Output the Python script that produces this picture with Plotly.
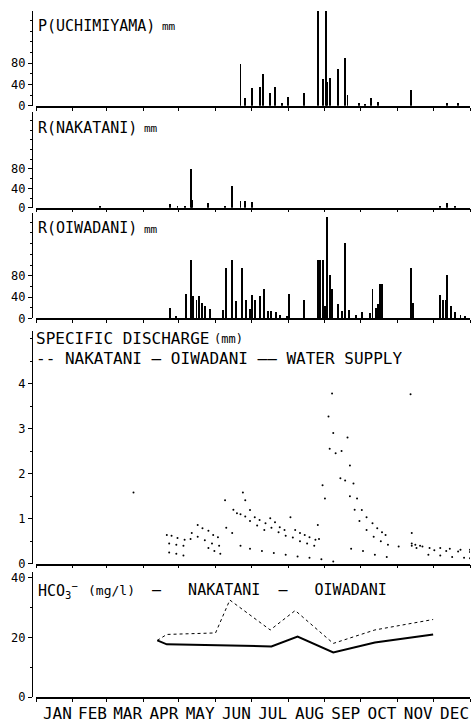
import plotly.graph_objects as go

W, H = 471, 725
FONT = "DejaVu Sans Mono"

# ---------------- data ----------------
months = ["JAN", "FEB", "MAR", "APR", "MAY", "JUN", "JUL", "AUG", "SEP", "OCT", "NOV", "DEC"]
month_starts = [0, 31, 59, 90, 120, 151, 181, 212, 243, 273, 304, 334, 365]
month_mids = [(month_starts[i] + month_starts[i + 1]) / 2 for i in range(12)]

# daily rainfall (day of year, mm)
p_uchi_day = [172, 176, 182, 188, 191, 197, 201, 207, 212, 225, 237, 241, 244, 245, 247,
              254, 260, 262, 272, 277, 282, 288, 315, 346, 355]
p_uchi_mm = [78, 15, 33, 35, 60, 25, 36, 5, 16, 25, 200, 50, 200, 44, 53,
             69, 89, 20, 5, 4, 15, 8, 29, 5, 5]

r_naka_day = [54, 113, 119, 125, 130, 131, 145, 159, 165, 172, 176, 182, 340, 346, 352]
r_naka_mm = [2, 8, 3, 5, 80, 17, 10, 5, 45, 14, 14, 12, 5, 10, 3]

r_oiwa_day = [113, 118, 126, 130, 132, 135, 137, 140, 142, 146, 157, 160, 165, 168, 173,
              177, 180, 182, 184, 188, 192, 195, 198, 202, 205, 211, 213, 225, 237, 239,
              241, 243, 245, 247, 249, 254, 257, 260, 263, 269, 274, 281, 283, 286, 288,
              289, 291, 315, 317, 340, 342, 345, 346, 349, 352, 357, 361]
r_oiwa_mm = [20, 5, 47, 110, 42, 36, 42, 29, 24, 18, 16, 96, 110, 33, 96,
             36, 18, 44, 36, 42, 55, 15, 14, 12, 8, 5, 47, 35, 110, 110,
             110, 24, 190, 82, 55, 27, 14, 142, 16, 8, 12, 10, 56, 20, 27,
             65, 65, 95, 29, 45, 35, 36, 82, 24, 12, 8, 5]

# specific discharge (mm/day)
q_oiwa_day = [110, 114, 119, 125, 131, 136, 140, 145, 149, 153, 159, 165, 169, 174, 176,
              180, 184, 188, 193, 197, 201, 205, 209, 214, 218, 222, 226, 230, 235, 237,
              241, 246, 249, 250, 257, 262, 264, 267, 270, 274, 278, 283, 287, 291, 294,
              316, 319, 323, 331, 340, 348, 357, 365]
q_oiwa = [0.64, 0.62, 0.57, 0.53, 0.68, 0.86, 0.79, 0.73, 0.64, 0.59, 1.41, 0.68, 1.12, 1.58, 1.41,
          1.19, 1.03, 0.97, 0.90, 1.01, 0.92, 0.81, 0.75, 1.03, 0.75, 0.68, 0.64, 0.59, 0.53, 0.86,
          1.74, 3.27, 3.78, 2.90, 2.50, 2.80, 2.18, 1.78, 1.45, 1.19, 1.03, 0.90, 0.79, 0.70, 0.64,
          0.68, 0.42, 0.40, 0.35, 0.35, 0.33, 0.31, 0.31]

q_naka_day = [82, 112, 118, 124, 130, 136, 142, 148, 154, 160, 166, 172, 176, 180, 186,
              192, 198, 204, 210, 216, 222, 228, 234, 238, 243, 247, 252, 256, 260, 264,
              268, 272, 278, 284, 290, 296, 305, 316, 325, 335, 345, 355, 365]
q_naka = [1.58, 0.45, 0.42, 0.40, 0.55, 0.60, 0.52, 0.45, 0.40, 0.80, 1.20, 1.10, 1.05, 0.95, 0.85,
          0.75, 0.80, 0.70, 0.62, 0.58, 0.50, 0.45, 0.40, 0.55, 1.45, 2.55, 2.45, 1.90, 1.85, 1.50,
          1.20, 0.95, 0.75, 0.60, 0.50, 0.42, 0.38, 0.45, 0.38, 0.30, 0.28, 0.27, 0.26]

q_ws_day = [112, 118, 124, 145, 150, 155, 172, 180, 190, 200, 210, 220, 230, 240, 250,
            265, 275, 285, 295, 315, 316, 320, 330, 340, 350, 360, 365]
q_ws = [0.25, 0.22, 0.18, 0.35, 0.28, 0.22, 0.40, 0.33, 0.28, 0.24, 0.20, 0.16, 0.13, 0.10, 0.05,
        0.33, 0.28, 0.20, 0.15, 3.76, 0.40, 0.35, 0.20, 0.18, 0.15, 0.13, 0.12]

# HCO3- concentration (mg/l)
hco3_naka_day = [102, 110, 151, 163, 197, 218, 250, 285, 334]
hco3_naka = [19.0, 21.0, 21.5, 32.5, 22.5, 29.0, 18.0, 22.5, 26.0]
hco3_oiwa_day = [102, 110, 198, 220, 250, 285, 334]
hco3_oiwa = [19.0, 17.7, 17.0, 20.3, 15.0, 18.3, 21.0]

# ---------------- layout geometry (pixels) ----------------
def py(v):
    return 1 - v / H

def px(v):
    return v / W

panels = [  # top, bottom, yrange
    (10, 106, [0, 178]),
    (112, 209, [0, 198]),
    (214, 321, [0, 198]),
    (334, 569, [0, 5.16]),
    (577, 704, [0, 42]),
]
X0, X1, YAX = 36, 470, 32

fig = go.Figure()

def bars(days, vals, n):
    fig.add_trace(go.Bar(x=days, y=vals, width=0.8, marker=dict(color="black", line=dict(width=0)),
                         xaxis=f"x{n}", yaxis=f"y{n}", showlegend=False))

bars(p_uchi_day, p_uchi_mm, 1)
bars(r_naka_day, r_naka_mm, 2)
bars(r_oiwa_day, r_oiwa_mm, 3)

for d, v in [(q_naka_day, q_naka), (q_oiwa_day, q_oiwa), (q_ws_day, q_ws)]:
    fig.add_trace(go.Scatter(x=d, y=v, mode="markers", marker=dict(color="black", size=2),
                             xaxis="x4", yaxis="y4", showlegend=False))

fig.add_trace(go.Scatter(x=hco3_naka_day, y=hco3_naka, mode="lines",
                         line=dict(color="black", width=1, dash="dot"),
                         xaxis="x5", yaxis="y5", showlegend=False))
fig.add_trace(go.Scatter(x=hco3_oiwa_day, y=hco3_oiwa, mode="lines",
                         line=dict(color="black", width=2),
                         xaxis="x5", yaxis="y5", showlegend=False))

layout = dict(width=W, height=H, margin=dict(l=0, r=0, t=0, b=0),
              paper_bgcolor="white", plot_bgcolor="white", showlegend=False,
              font=dict(family=FONT, color="black", size=12), bargap=0)

ytick_specs = [
    ([0, 40, 80], ["0", "40", "80"], 20),
    ([0, 40, 80], ["0", "40", "80"], 20),
    ([0, 40, 80], ["0", "40", "80"], 20),
    ([0, 1, 2, 3, 4], ["0", "1", "2", "3", "4"], 0.5),
    ([0, 20, 40], ["0", "20", "40"], 10),
]

for i, (top, bot, yr) in enumerate(panels):
    n = i + 1
    sfx = "" if n == 1 else str(n)
    tv, tt, mdt = ytick_specs[i]
    xa = dict(domain=[px(X0), px(X1)], range=[0, 365], anchor=f"y{n}",
              showline=True, linecolor="black", linewidth=1.5, showgrid=False, zeroline=False,
              tickmode="array", tickvals=month_mids, ticktext=months,
              ticks="", showticklabels=(n == 5), ticklabelstandoff=1, ticklabelshift=3,
              tickfont=dict(family=FONT, size=16, color="black"),
              minor=dict(tickmode="array", tickvals=month_starts, ticks="outside",
                         ticklen=3, tickcolor="black", tickwidth=1))
    ya = dict(domain=[py(bot), py(top)], range=yr, anchor="free", position=px(YAX),
              showline=True, linecolor="black", linewidth=1.2, showgrid=False, zeroline=False,
              tickmode="array", tickvals=tv, ticktext=tt, ticks="outside", ticklen=4,
              tickcolor="black", tickfont=dict(family=FONT, size=12, color="black"),
              minor=dict(dtick=mdt, ticks="outside", ticklen=2, tickcolor="black"))
    layout[f"xaxis{sfx}"] = xa
    layout[f"yaxis{sfx}"] = ya

ann = []
def txt(x, y, s, size=15):
    ann.append(dict(x=px(x), y=py(y), xref="paper", yref="paper", text=s, showarrow=False,
                    xanchor="left", yanchor="middle", font=dict(family=FONT, size=size, color="black")))

txt(36, 25, "P(UCHIMIYAMA)")
txt(160, 26, "mm", 11)
txt(36, 128, "R(NAKATANI)")
txt(142, 129, "mm", 11)
txt(36, 230, "R(OIWADANI)")
txt(142, 231, "mm", 11)
txt(34, 341, "SPECIFIC DISCHARGE", 16)
txt(212, 342, "(mm)", 12)
txt(34, 361, "-- NAKATANI — OIWADANI —— WATER SUPPLY", 16)
txt(36, 596, "HCO<sub>3</sub><sup>−</sup>", 15)
txt(86, 596, "(mg/l)", 13)
txt(150, 596, "—   NAKATANI  —   OIWADANI", 15)

layout["annotations"] = ann
fig.update_layout(**layout)
fig.write_html("out.html", config={"displayModeBar": False},
               post_script="document.body.style.margin='0px';document.body.style.overflow='hidden';")
